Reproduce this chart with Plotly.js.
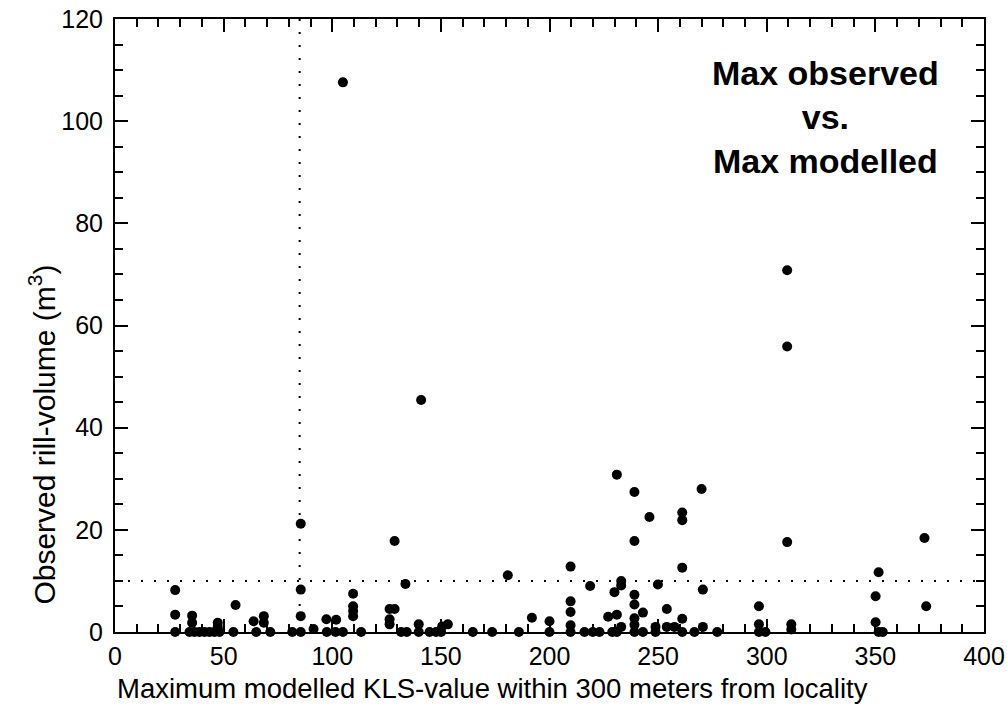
<!DOCTYPE html>
<html>
<head>
<meta charset="utf-8">
<script src="https://cdn.plot.ly/plotly-3.0.1.min.js"></script>
<style>html,body{margin:0;padding:0;background:#fff;}#chart{width:1007px;height:720px;}</style>
</head>
<body>
<div id="chart"></div>
<script>
// Maximum modelled KLS-value within 300 m (x) and observed rill-volume m3 (y)
const klsValues = [
  27.7, 27.7, 27.7, 34.3, 35.5, 35.5, 36.6, 38.9, 41.2, 43.5, 45.8, 47.3, 47.3, 48.1,
  54.5, 55.5, 63.8, 65.0, 68.5, 68.5, 71.5, 81.6, 85.5, 85.5, 85.5, 85.5, 91.4, 97.3, 97.5,
  101.8, 101.5, 104.9, 104.9, 109.6, 109.6, 109.6, 109.6, 113.3,
  126.4, 128.7, 126.4, 126.4, 128.7, 131.7, 133.7, 134.3, 139.8, 139.8, 140.9,
  144.8, 147.8, 150.1, 150.6, 153.2, 164.7, 173.6, 180.8, 185.9, 191.9,
  200.0, 200.0, 209.7, 209.7, 209.7, 209.7, 209.7, 216.1, 218.7, 219.9, 223.0,
  227.0, 228.9, 229.9, 231.0, 231.0, 231.0, 233.0, 233.0, 233.0,
  239.1, 239.1, 239.1, 239.1, 239.1, 239.1, 239.1, 243.0, 243.0, 246.0, 248.8, 248.8, 249.9,
  254.0, 254.0, 257.5, 261.1, 261.1, 261.1, 261.1, 261.1, 266.7, 270.0, 270.6, 270.6, 277.2,
  296.4, 296.4, 296.4, 299.4, 309.4, 309.4, 309.4, 311.3, 311.3,
  350.1, 351.5, 350.1, 351.5, 353.4, 372.6, 373.4
];
const rillVolumes = [
  8.2, 3.4, 0, 0, 3.2, 1.8, 0, 0, 0, 0, 0, 1.8, 1.0, 0,
  0, 5.3, 2.1, 0, 3.1, 1.8, 0, 0, 21.2, 8.3, 3.1, 0, 0.6, 2.5, 0,
  2.4, 0, 0, 107.6, 7.5, 5.05, 4.1, 3.1, 0,
  4.5, 4.5, 2.5, 1.5, 17.8, 0, 9.4, 0, 1.5, 0, 45.4,
  0, 0, 0, 1.1, 1.5, 0, 0, 11.1, 0, 2.8,
  2.1, 0, 12.8, 6.0, 3.9, 1.3, 0, 0, 9.0, 0, 0,
  3.0, 0, 7.8, 3.4, 0, 30.8, 10.0, 9.1, 1.0,
  27.4, 17.8, 7.3, 5.4, 2.7, 1.4, 0, 3.8, 0, 22.5, 1.0, 0, 9.3,
  4.5, 1.0, 1.0, 23.4, 21.9, 12.6, 2.6, 0, 0, 28.0, 8.3, 1.0, 0,
  5.05, 1.5, 0, 0, 70.8, 55.9, 17.6, 1.5, 0.5,
  7.0, 11.7, 1.9, 0, 0, 18.4, 5.05
];
// reference threshold lines
const thresholdKLS = 85;
const thresholdVolume = 10;
const xRange = [0, 400];
const yRange = [0, 120];

const xTitle = 'Maximum modelled KLS-value within 300 meters from locality';
const yTitle = 'Observed rill-volume (m<sup>3</sup>)';
const panelLabel = 'Max observed<br>vs.<br>Max modelled';

const font = 'Liberation Sans, Arial, sans-serif';

const traces = [
  {
    x: xRange, y: [thresholdVolume, thresholdVolume],
    type: 'scatter', mode: 'lines', hoverinfo: 'skip', showlegend: false,
    line: {color: '#000', width: 2, dash: '2px,11px'}
  },
  {
    x: [thresholdKLS, thresholdKLS], y: yRange,
    type: 'scatter', mode: 'lines', hoverinfo: 'skip', showlegend: false,
    line: {color: '#000', width: 2, dash: '2px,11px'}
  },
  {
    x: klsValues, y: rillVolumes,
    type: 'scatter', mode: 'markers', showlegend: false, cliponaxis: false,
    marker: {color: '#000', size: 10, line: {width: 0}}
  }
];

const axisCommon = {
  showline: true, linecolor: '#000', linewidth: 2, mirror: 'ticks',
  ticks: 'inside', ticklen: 13, tickwidth: 2, tickcolor: '#000',
  showgrid: false, zeroline: false,
  tickfont: {family: font, size: 25, color: '#000'}
};

const layout = {
  width: 1007, height: 720,
  margin: {l: 115, r: 23, t: 19, b: 88},
  paper_bgcolor: '#fff', plot_bgcolor: '#fff',
  font: {family: font, color: '#000'},
  xaxis: Object.assign({}, axisCommon, {
    range: xRange, dtick: 50, tick0: 0,
    ticklabelstandoff: 1,
    minor: {dtick: 10, ticks: 'inside', ticklen: 8, tickwidth: 2, tickcolor: '#000', showgrid: false}
  }),
  yaxis: Object.assign({}, axisCommon, {
    range: yRange, dtick: 20, tick0: 0,
    ticklabelstandoff: 5,
    minor: {dtick: 5, ticks: 'inside', ticklen: 8, tickwidth: 2, tickcolor: '#000', showgrid: false}
  }),
  annotations: [
    {
      text: xTitle, showarrow: false,
      xref: 'paper', yref: 'paper', x: 0.434, y: -0.092, xanchor: 'center', yanchor: 'middle',
      font: {family: font, size: 27.5, color: '#000'}
    },
    {
      text: yTitle, textangle: -90, showarrow: false,
      xref: 'paper', yref: 'paper', x: -0.084, y: 0.322, xanchor: 'center', yanchor: 'middle',
      font: {family: font, size: 30, color: '#000'}
    },
    {
      text: '<b>' + panelLabel + '</b>', showarrow: false, align: 'center',
      xref: 'paper', yref: 'paper', x: 0.818, y: 0.84, xanchor: 'center', yanchor: 'middle',
      font: {family: font, size: 34, color: '#000'}
    }
  ]
};

Plotly.newPlot('chart', traces, layout, {displayModeBar: false, staticPlot: true});
</script>
</body>
</html>
